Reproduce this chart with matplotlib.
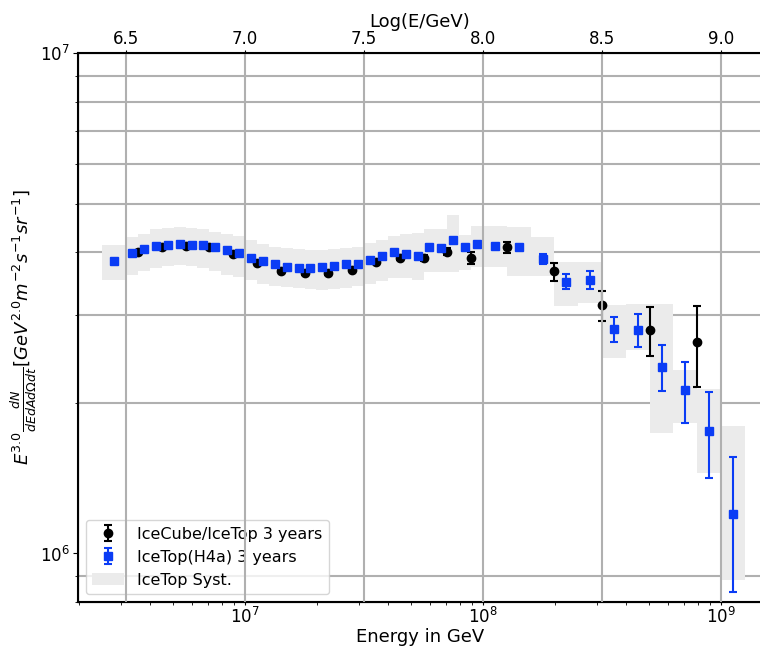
import numpy as np
import matplotlib
matplotlib.use("Agg")
import matplotlib.pyplot as plt
from matplotlib.ticker import NullFormatter

# IceCube/IceTop 3 years (log10 E/GeV, flux in 1e6 units)
ic_logE = [6.55, 6.65, 6.75, 6.85, 6.95, 7.05, 7.15, 7.25, 7.35, 7.45,
           7.55, 7.65, 7.75, 7.85, 7.95, 8.10, 8.30, 8.50, 8.70, 8.90]
ic_flux = [4.01, 4.09, 4.11, 4.09, 3.97, 3.80, 3.67, 3.63, 3.63, 3.69,
           3.82, 3.90, 3.89, 4.01, 3.90, 4.09, 3.66, 3.13, 2.80, 2.64]
ic_err = [0.02, 0.02, 0.02, 0.02, 0.02, 0.02, 0.02, 0.025, 0.03, 0.03,
          0.04, 0.05, 0.05, 0.07, 0.11, 0.10, 0.15, 0.21, 0.315, 0.485]

# IceTop(H4a) 3 years
it_logE = [6.45, 6.525, 6.575, 6.625, 6.675, 6.725, 6.775, 6.825, 6.875, 6.925,
           6.975, 7.025, 7.075, 7.125, 7.175, 7.225, 7.275, 7.325, 7.375, 7.425,
           7.475, 7.525, 7.575, 7.625, 7.675, 7.725, 7.775, 7.825, 7.875, 7.925,
           7.975, 8.05, 8.15, 8.25, 8.35, 8.45, 8.55, 8.65, 8.75, 8.85,
           8.95, 9.05]
it_flux = [3.84, 3.98, 4.05, 4.11, 4.14, 4.16, 4.14, 4.13, 4.09, 4.04,
           3.98, 3.90, 3.84, 3.79, 3.74, 3.72, 3.72, 3.73, 3.76, 3.78,
           3.79, 3.86, 3.93, 4.01, 3.96, 3.93, 4.09, 4.07, 4.23, 4.10,
           4.15, 4.12, 4.09, 3.88, 3.49, 3.52, 2.81, 2.80, 2.36, 2.12,
           1.76, 1.197]
it_err = [0.02, 0.01, 0.01, 0.01, 0.01, 0.01, 0.01, 0.01, 0.01, 0.01,
          0.01, 0.01, 0.01, 0.01, 0.01, 0.01, 0.01, 0.01, 0.01, 0.01,
          0.01, 0.01, 0.01, 0.015, 0.015, 0.015, 0.02, 0.02, 0.02, 0.04,
          0.04, 0.03, 0.05, 0.09, 0.12, 0.145, 0.165, 0.215, 0.245, 0.295,
          0.345, 0.36]

# IceTop systematic band, bin edges in log10 E
syst_edges = [6.40, 6.50, 6.55, 6.60, 6.65, 6.70, 6.75, 6.80, 6.85, 6.90,
              6.95, 7.00, 7.05, 7.10, 7.15, 7.20, 7.25, 7.30, 7.35, 7.40,
              7.45, 7.50, 7.55, 7.60, 7.65, 7.70, 7.75, 7.80, 7.85, 7.90,
              7.95, 8.00, 8.10, 8.20, 8.30, 8.40, 8.50, 8.60, 8.70, 8.80,
              8.90, 9.00, 9.10]
syst_hi = [4.14, 4.29, 4.35, 4.44, 4.47, 4.49, 4.47, 4.44, 4.39, 4.35,
           4.30, 4.23, 4.15, 4.09, 4.07, 4.05, 4.04, 4.04, 4.05, 4.07,
           4.09, 4.17, 4.23, 4.30, 4.34, 4.36, 4.44, 4.44, 4.74, 4.33,
           4.51, 4.51, 4.49, 4.28, 3.83, 3.83, 3.13, 3.15, 3.15, 2.33,
           2.13, 1.80]
syst_lo = [3.52, 3.60, 3.66, 3.72, 3.75, 3.77, 3.75, 3.72, 3.66, 3.60,
           3.57, 3.52, 3.45, 3.42, 3.40, 3.39, 3.37, 3.36, 3.37, 3.39,
           3.42, 3.45, 3.50, 3.55, 3.55, 3.52, 3.65, 3.65, 3.65, 3.68,
           3.74, 3.74, 3.58, 3.58, 3.12, 3.16, 2.46, 2.55, 1.74, 1.82,
           1.45, 0.886]

scale = 1e6
blue = '#0a3cf5'
gridc = '#b0b0b0'

fig = plt.figure(figsize=(7.6, 6.52), dpi=100)
ax = fig.add_axes([0.1026, 0.0767, 0.9, 0.842])

# systematic boxes
edges = 10 ** np.array(syst_edges)
lo = np.array(syst_lo) * scale
hi = np.array(syst_hi) * scale
ax.bar(edges[:-1], hi - lo, width=edges[1:] - edges[:-1], bottom=lo,
       align='edge', color='#ebebeb', linewidth=0, label='IceTop Syst.', zorder=1)

ax.errorbar(10 ** np.array(ic_logE), np.array(ic_flux) * scale,
            yerr=np.array(ic_err) * scale, fmt='o', color='black', ms=6,
            capsize=3, elinewidth=1.5, capthick=1.5,
            label='IceCube/IceTop 3 years', zorder=3)
ax.errorbar(10 ** np.array(it_logE), np.array(it_flux) * scale,
            yerr=np.array(it_err) * scale, fmt='s', color=blue, ms=6,
            capsize=3, elinewidth=1.5, capthick=1.5,
            label='IceTop(H4a) 3 years', zorder=3)

ax.set_xscale('log')
ax.set_yscale('log')
ax.set_xlim(10 ** 6.298, 10 ** 9.172)
ax.set_ylim(8e5, 1e7)
ax.yaxis.set_minor_formatter(NullFormatter())
ax.xaxis.set_minor_formatter(NullFormatter())
ax.yaxis.grid(True, which='minor', color=gridc, lw=1.5)
ax.set_axisbelow(True)
ax.tick_params(labelsize=12)
ax.tick_params(axis='x', which='major', length=2.5, pad=1.0)
ax.tick_params(axis='x', which='minor', length=2.0)
ax.tick_params(axis='y', pad=2.3)
ax.set_xlabel('Energy in GeV', fontsize=13, labelpad=0.5)
ax.set_ylabel(r'$E^{3.0}\frac{dN}{dEdAd\Omega dt}[GeV^{2.0}m^{-2}s^{-1}sr^{-1}]$',
              fontsize=13, labelpad=0.5)
for s in ax.spines.values():
    s.set_linewidth(1.5)

handles, labels = ax.get_legend_handles_labels()
order = [labels.index('IceCube/IceTop 3 years'), labels.index('IceTop(H4a) 3 years'),
         labels.index('IceTop Syst.')]
ax.legend([handles[i] for i in order], [labels[i] for i in order],
          loc='lower left', fontsize=11.5)

# top axis in log10(E/GeV)
ax2 = ax.twiny()
ax2.set_xlim(6.298, 9.172)
ax2.set_xticks([6.5, 7.0, 7.5, 8.0, 8.5, 9.0])
ax2.xaxis.grid(True, color=gridc, lw=1.5)
ax2.tick_params(labelsize=12, length=2.5, pad=1.0)
ax2.set_xlabel('Log(E/GeV)', fontsize=13, labelpad=2)

fig.savefig('out.png', dpi=100)
